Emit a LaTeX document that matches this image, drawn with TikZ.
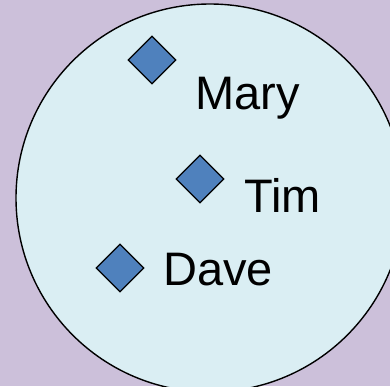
\documentclass[tikz,border=0pt]{standalone}
\usepackage{fontspec}
\setmainfont{Liberation Sans}
\usetikzlibrary{shapes.geometric}
\definecolor{backLilac}{HTML}{CCC0DA}
\definecolor{setFill}{HTML}{DAEEF3}
\definecolor{markBlue}{HTML}{4F81BD}
\tikzset{
    member/.style={diamond, draw=black, fill=markBlue, line width=1.2pt, minimum width=48pt, minimum height=48pt, inner sep=0pt},
    personlabel/.style={anchor=base west, inner sep=0pt, font=\fontsize{47}{47}\selectfont}
}
\begin{document}
\begin{tikzpicture}[x=1pt, y=-1pt]
    \fill[backLilac](0,0)rectangle(390,386);
    \useasboundingbox(0,0)rectangle(390,386);
    \draw[fill=setFill, line width=1.4pt](210,198)circle(194pt);
    \node[member](markMary) at (152,60){};
    \node[member](markTim) at (200,179){};
    \node[member](markDave) at (120,268){};
    \node[personlabel](mary) at (195,109){Mary};
    \node[personlabel](tim) at (244,212){Tim};
    \node[personlabel](dave) at (163,285){Dave};
\end{tikzpicture}
\end{document}
